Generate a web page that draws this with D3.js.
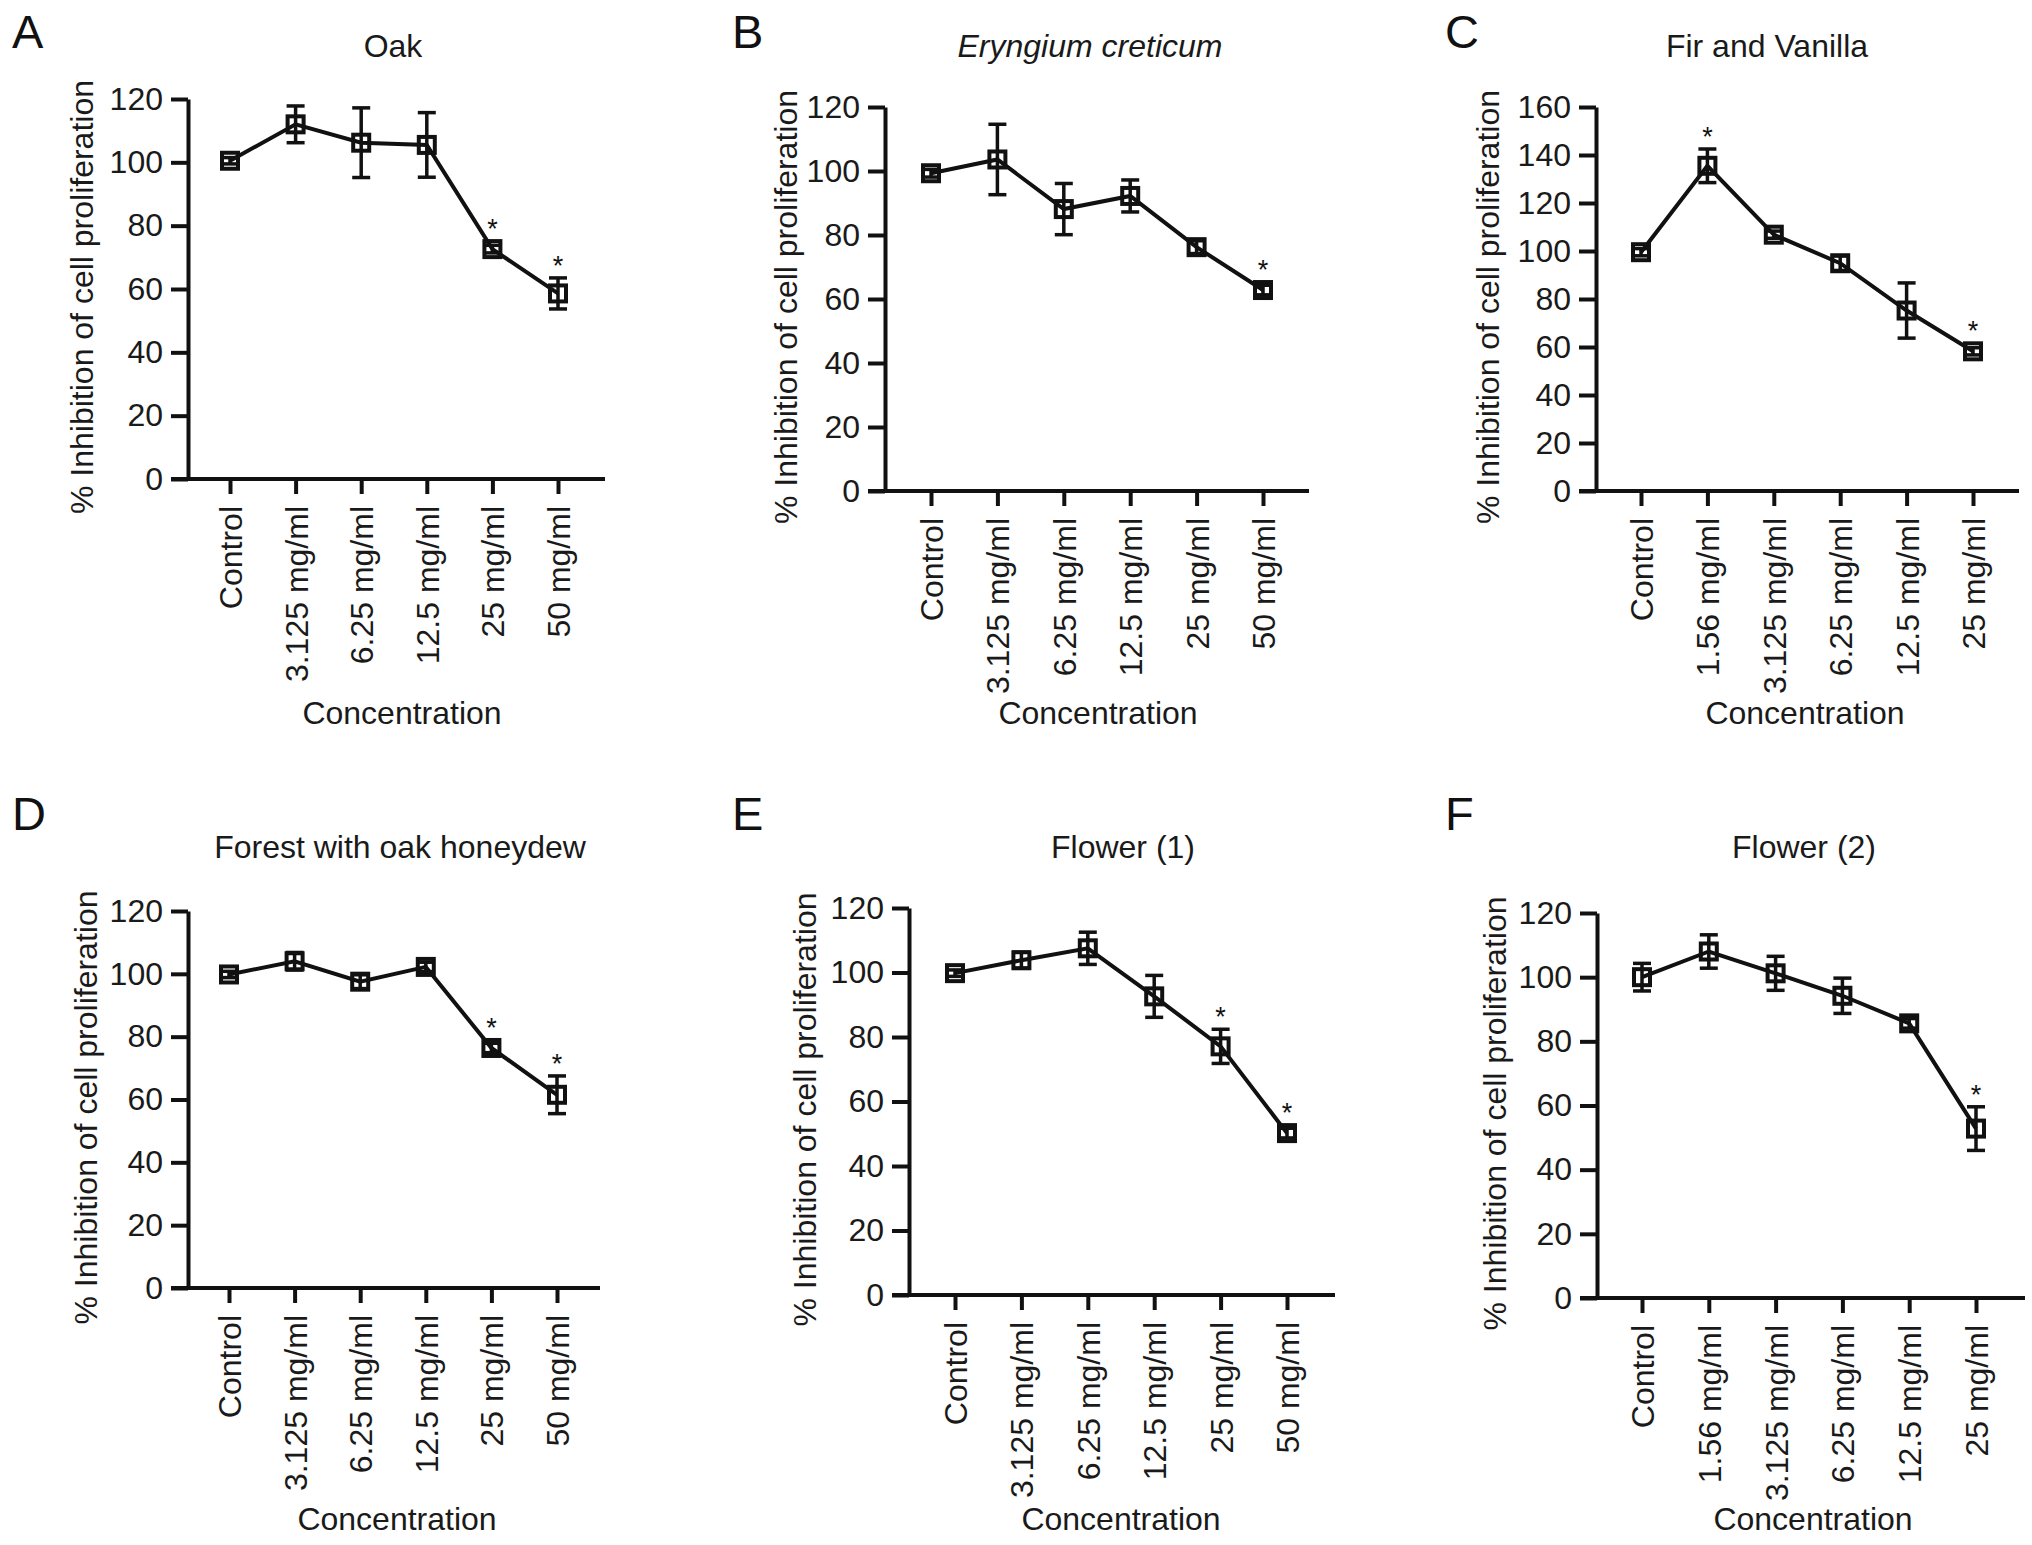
<!DOCTYPE html>
<html><head><meta charset="utf-8">
<script src="https://cdn.jsdelivr.net/npm/d3@7"></script>
<style>
html,body{margin:0;padding:0;background:#fff;}
svg{display:block;font-family:"Liberation Sans",Arial,Helvetica,sans-serif;}
</style></head>
<body>
<svg id="chart" width="2032" height="1545"></svg>
<script>
// ---- data ----
const catsHigh = ["Control","3.125 mg/ml","6.25 mg/ml","12.5 mg/ml","25 mg/ml","50 mg/ml"];
const catsLow  = ["Control","1.56 mg/ml","3.125 mg/ml","6.25 mg/ml","12.5 mg/ml","25 mg/ml"];
const ticks120 = [0,20,40,60,80,100,120];
const ticks160 = [0,20,40,60,80,100,120,140,160];

const oakMean   = [100.5, 112.0, 106.2, 105.5, 72.6, 58.6];
const oakErr    = [1.0, 5.8, 11.0, 10.2, 1.2, 4.9];
const oakSig    = [0,0,0,0,1,1];

const eryMean   = [99.3, 103.6, 88.1, 92.2, 76.2, 62.8];
const eryErr    = [1.2, 11.0, 8.0, 5.0, 2.0, 1.5];
const erySig    = [0,0,0,0,0,1];

const firMean   = [99.5, 135.5, 106.8, 94.9, 75.2, 58.2];
const firErr    = [1.5, 7.0, 1.5, 3.0, 11.5, 1.5];
const firSig    = [0,1,0,0,0,1];

const forMean   = [99.8, 104.0, 97.5, 102.2, 76.4, 61.5];
const forErr    = [1.0, 2.8, 2.2, 1.5, 1.5, 6.0];
const forSig    = [0,0,0,0,1,1];

const fl1Mean   = [99.8, 103.8, 107.5, 92.6, 77.1, 50.2];
const fl1Err    = [1.0, 2.5, 5.0, 6.5, 5.3, 1.5];
const fl1Sig    = [0,0,0,0,1,1];

const fl2Mean   = [100.0, 108.0, 101.2, 94.2, 85.6, 52.8];
const fl2Err    = [4.3, 5.2, 5.3, 5.5, 1.5, 6.8];
const fl2Sig    = [0,0,0,0,0,1];

const yLabel = "% Inhibition of cell proliferation";
const xLabel = "Concentration";

// ---- layout (pixels) ----
const panels = [
  {letter:"A", title:"Oak", italic:false, cats:catsHigh, mean:oakMean, err:oakErr, sig:oakSig, ymax:120, ticks:ticks120,
   ax:188, y0:479, yt:99, x1:230, x6:558, xr:605, lx:12, ly:48, tx:393, ty:57, ylx:81, cx:402, cy:724},
  {letter:"B", title:"Eryngium creticum", italic:true, cats:catsHigh, mean:eryMean, err:eryErr, sig:erySig, ymax:120, ticks:ticks120,
   ax:885, y0:491, yt:107, x1:931, x6:1263, xr:1309, lx:732, ly:48, tx:1090, ty:57, ylx:785, cx:1098, cy:724},
  {letter:"C", title:"Fir and Vanilla", italic:false, cats:catsLow, mean:firMean, err:firErr, sig:firSig, ymax:160, ticks:ticks160,
   ax:1596, y0:491, yt:107, x1:1641, x6:1973, xr:2019, lx:1445, ly:48, tx:1767, ty:57, ylx:1487, cx:1805, cy:724},
  {letter:"D", title:"Forest with oak honeydew", italic:false, cats:catsHigh, mean:forMean, err:forErr, sig:forSig, ymax:120, ticks:ticks120,
   ax:188, y0:1288, yt:911, x1:229, x6:557, xr:600, lx:12, ly:830, tx:400, ty:858, ylx:85, cx:397, cy:1530},
  {letter:"E", title:"Flower (1)", italic:false, cats:catsHigh, mean:fl1Mean, err:fl1Err, sig:fl1Sig, ymax:120, ticks:ticks120,
   ax:909, y0:1295, yt:908, x1:955, x6:1287, xr:1335, lx:732, ly:830, tx:1123, ty:858, ylx:804, cx:1121, cy:1530},
  {letter:"F", title:"Flower (2)", italic:false, cats:catsLow, mean:fl2Mean, err:fl2Err, sig:fl2Sig, ymax:120, ticks:ticks120,
   ax:1597, y0:1298, yt:913, x1:1642, x6:1976, xr:2025, lx:1445, ly:830, tx:1804, ty:858, ylx:1494, cx:1813, cy:1530}
];

const svg = d3.select("#chart");
const FS = 32, TICKLEN = 17, XTICK = 15, CAP = 9, SQ = 16;
const INK = "#111";

panels.forEach(p => {
  const g = svg.append("g");
  const y = d3.scaleLinear().domain([0, p.ymax]).range([p.y0, p.yt]);
  const x = d3.scalePoint().domain(p.cats).range([p.x1, p.x6]);

  // panel letter & title
  g.append("text").attr("x", p.lx).attr("y", p.ly).attr("font-size", 47).attr("fill",INK).text(p.letter);
  g.append("text").attr("x", p.tx).attr("y", p.ty).attr("text-anchor","middle").attr("font-size", FS)
    .attr("font-style", p.italic ? "italic" : "normal").attr("fill","#1a1a1a").text(p.title);

  // y axis
  const ya = g.append("g").attr("transform", `translate(${p.ax},0)`)
    .call(d3.axisLeft(y).tickValues(p.ticks).tickSize(TICKLEN).tickSizeOuter(0).tickPadding(8));
  ya.select(".domain").attr("stroke",INK).attr("stroke-width",4);
  ya.selectAll(".tick line").attr("stroke",INK).attr("stroke-width",4);
  ya.selectAll(".tick text").attr("font-size", FS).attr("fill","#1a1a1a").attr("font-family","inherit");

  // x axis
  const xa = g.append("g").attr("transform", `translate(0,${p.y0})`)
    .call(d3.axisBottom(x).tickSize(XTICK).tickSizeOuter(0));
  xa.select(".domain").remove();
  xa.selectAll(".tick line").attr("stroke",INK).attr("stroke-width",4);
  xa.selectAll(".tick text").attr("font-size", FS).attr("fill","#1a1a1a").attr("font-family","inherit")
    .attr("text-anchor","end").attr("transform","translate(0,27) rotate(-90)")
    .attr("x",0).attr("y",0).attr("dy","0.36em");
  g.append("line").attr("x1", p.ax - TICKLEN).attr("x2", p.xr).attr("y1", p.y0).attr("y2", p.y0)
    .attr("stroke",INK).attr("stroke-width",4);

  // axis titles
  g.append("text").attr("transform", `translate(${p.ylx},${(p.y0+p.yt)/2+8}) rotate(-90)`)
    .attr("text-anchor","middle").attr("dy","0.36em").attr("font-size", FS).attr("fill","#1a1a1a").text(yLabel);
  g.append("text").attr("x", p.cx).attr("y", p.cy).attr("text-anchor","middle").attr("font-size", FS)
    .attr("fill","#1a1a1a").text(xLabel);

  const pts = p.cats.map((c,i) => ({c, m:p.mean[i], e:p.err[i], s:p.sig[i]}));

  // connecting line
  g.append("path").datum(pts)
    .attr("d", d3.line().x(d => x(d.c)).y(d => y(d.m)))
    .attr("fill","none").attr("stroke",INK).attr("stroke-width",4);

  // markers (open squares)
  g.selectAll(".sq").data(pts).enter().append("rect")
    .attr("x", d => x(d.c) - SQ/2).attr("y", d => y(d.m) - SQ/2)
    .attr("width", SQ).attr("height", SQ)
    .attr("fill","none").attr("stroke",INK).attr("stroke-width",4);

  // error bars
  const eb = g.selectAll(".eb").data(pts).enter().append("g");
  eb.append("line").attr("x1", d => x(d.c)).attr("x2", d => x(d.c))
    .attr("y1", d => y(d.m + d.e)).attr("y2", d => y(d.m - d.e))
    .attr("stroke",INK).attr("stroke-width",3.5);
  eb.append("line").attr("x1", d => x(d.c) - CAP).attr("x2", d => x(d.c) + CAP)
    .attr("y1", d => y(d.m + d.e)).attr("y2", d => y(d.m + d.e))
    .attr("stroke",INK).attr("stroke-width",3.5);
  eb.append("line").attr("x1", d => x(d.c) - CAP).attr("x2", d => x(d.c) + CAP)
    .attr("y1", d => y(d.m - d.e)).attr("y2", d => y(d.m - d.e))
    .attr("stroke",INK).attr("stroke-width",3.5);

  // significance stars
  g.selectAll(".star").data(pts.filter(d => d.s)).enter().append("text")
    .attr("x", d => x(d.c)).attr("y", d => Math.min(y(d.m + d.e), y(d.m) - SQ/2) - 3)
    .attr("text-anchor","middle").attr("font-size", 27).attr("fill",INK).text("*");
});
</script>
</body></html>
